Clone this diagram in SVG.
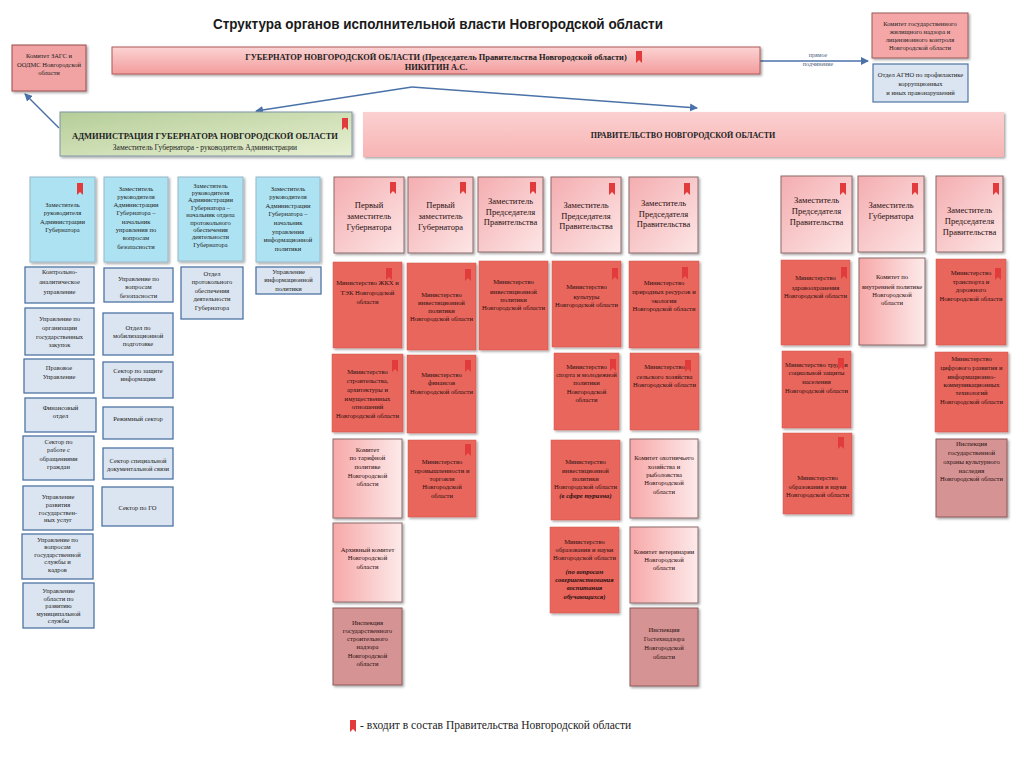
<svg xmlns="http://www.w3.org/2000/svg" xmlns:xlink="http://www.w3.org/1999/xlink" width="1024" height="767" viewBox="0 0 1024 767">
<defs>
<style>
.t{font-family:"Liberation Serif","DejaVu Serif",serif;fill:#222;text-anchor:middle}
.hb{fill:#ade2f2;stroke:#98b7c9;stroke-width:1}
.sb{fill:#dbe5f1;stroke:#4f73a3;stroke-width:1.3}
.hr{fill:url(#gHead);stroke:#8c6a6a;stroke-width:1}
.mn{fill:#e9665b;stroke:#d4574d;stroke-width:0.5}
.lp{fill:url(#gLight);stroke:#8c6a6a;stroke-width:1}
.ins{fill:#d59393;stroke:#8c5a5a;stroke-width:1}
.f65{font-size:6.5px}
.f66{font-size:6.6px;fill:#2a1010}
.f85{font-size:8.5px;fill:#2a1010}
.bi{font-weight:bold;font-style:italic}
.con{stroke:#4a72a8;stroke-width:1.5;fill:none}
</style>
<linearGradient id="gHead" x1="0" y1="0" x2="1" y2="1"><stop offset="0" stop-color="#f4adb0"/><stop offset="1" stop-color="#fde6e6"/></linearGradient>
<linearGradient id="gLight" x1="0" y1="0" x2="1" y2="0"><stop offset="0" stop-color="#f7a8a8"/><stop offset="1" stop-color="#fdeaea"/></linearGradient>
<linearGradient id="gGov" x1="0" y1="0" x2="0" y2="1"><stop offset="0" stop-color="#fbd3d3"/><stop offset="1" stop-color="#f39c9c"/></linearGradient>
<linearGradient id="gPrav" x1="0" y1="0" x2="0" y2="1"><stop offset="0" stop-color="#fbd0d0"/><stop offset="1" stop-color="#f8b4b4"/></linearGradient>
<linearGradient id="gAdm" x1="0" y1="0" x2="1" y2="1"><stop offset="0" stop-color="#b5cd98"/><stop offset="1" stop-color="#e8f0d2"/></linearGradient>
<filter id="sh" x="-10%" y="-10%" width="130%" height="130%"><feDropShadow dx="1.5" dy="1.5" stdDeviation="1" flood-color="#000" flood-opacity="0.35"/></filter>
<marker id="ar" markerWidth="8" markerHeight="8" refX="7" refY="4" orient="auto" markerUnits="userSpaceOnUse"><path d="M0,0 L8,4 L0,8 z" fill="#4a72a8"/></marker>
<path id="bm" d="M0,0 h6 v12 l-3,-3 l-3,3 z" fill="#e23b3b"/>
</defs>
<rect width="1024" height="767" fill="#ffffff"/>

<text x="438" y="29" font-family="Liberation Sans, Arial, sans-serif" font-weight="bold" font-size="14.5" text-anchor="middle" fill="#1a1a1a" textLength="450" lengthAdjust="spacingAndGlyphs">Структура органов исполнительной власти Новгородской области</text>

<g id="connectors">
<line class="con" x1="412" y1="87" x2="256" y2="111" marker-end="url(#ar)"/>
<line class="con" x1="412" y1="87" x2="697" y2="108" marker-end="url(#ar)"/>
<line class="con" x1="59" y1="128" x2="25" y2="94" marker-end="url(#ar)"/>
<line class="con" x1="760" y1="61" x2="868" y2="61" marker-end="url(#ar)"/>
<text class="t" x="818" y="57" font-size="6" style="fill:#4a6080">прямое</text>
<text class="t" x="818" y="65.5" font-size="6" style="fill:#4a6080">подчинение</text>
</g>

<g id="governor">
<rect x="112" y="47" width="648" height="27" fill="url(#gGov)" stroke="#b05858" stroke-width="1" filter="url(#sh)"/>
<text class="t" x="436" y="59.5" font-size="8.4" font-weight="bold">ГУБЕРНАТОР НОВГОРОДСКОЙ ОБЛАСТИ (Председатель Правительства Новгородской области)</text>
<text class="t" x="436" y="69.5" font-size="8.4" font-weight="bold">НИКИТИН А.С.</text>
<use href="#bm" x="636" y="51"/>
</g>

<g id="zags">
<rect x="12" y="45" width="74" height="46" fill="#f1a3a3" stroke="#9a4a4a" stroke-width="1" filter="url(#sh)"/>
<text class="t f65"><tspan x="49" y="58">Комитет ЗАГС и</tspan><tspan x="49" y="66.5">ООДМС Новгородской</tspan><tspan x="49" y="75">области</tspan></text>
</g>

<g id="housing-committee">
<rect x="872" y="13" width="96" height="45" fill="#f5a7a7" stroke="#9a5a5a" stroke-width="1" filter="url(#sh)"/>
<text class="t f65"><tspan x="920" y="26">Комитет государственного</tspan><tspan x="920" y="34">жилищного надзора и</tspan><tspan x="920" y="42">лицензионного контроля</tspan><tspan x="920" y="50">Новгородской области</tspan></text>
</g>

<g id="agno">
<rect x="873" y="64" width="95" height="38" fill="#dbe5f1" stroke="#4f73a3" stroke-width="1.2"/>
<text class="t f65"><tspan x="920.5" y="76.5">Отдел  АГНО по профилактике</tspan><tspan x="920.5" y="86">коррупционных</tspan><tspan x="920.5" y="95">и иных правонарушений</tspan></text>
</g>

<g id="administration">
<rect x="60" y="112" width="292" height="44" fill="url(#gAdm)" stroke="#7f95a8" stroke-width="1" filter="url(#sh)"/>
<text class="t" x="205" y="139" font-size="8.5" font-weight="bold">АДМИНИСТРАЦИЯ ГУБЕРНАТОРА НОВГОРОДСКОЙ ОБЛАСТИ</text>
<text class="t" x="205" y="149.5" font-size="7.5">Заместитель Губернатора - руководитель Администрации</text>
<use href="#bm" x="342" y="118"/>
</g>

<g id="government">
<rect x="363" y="112" width="641" height="45" fill="url(#gPrav)" filter="url(#sh)"/>
<text class="t" x="683" y="138" font-size="8" font-weight="bold">ПРАВИТЕЛЬСТВО НОВГОРОДСКОЙ ОБЛАСТИ</text>
</g>

<g id="bh1">
<rect class="hb" x="30" y="177" width="65" height="85" filter="url(#sh)"/>
<text class="t f65"><tspan x="62.5" y="206.5">Заместитель</tspan><tspan x="62.5" y="215">руководителя</tspan><tspan x="62.5" y="223.5">Администрации</tspan><tspan x="62.5" y="232">Губернатора</tspan></text>
<use href="#bm" x="77" y="183"/>
</g>
<g id="bh2">
<rect class="hb" x="104" y="177" width="64" height="85" filter="url(#sh)"/>
<text class="t f65"><tspan x="136" y="190.5">Заместитель</tspan><tspan x="136" y="198.8">руководителя</tspan><tspan x="136" y="207.1">Администрации</tspan><tspan x="136" y="215.4">Губернатора –</tspan><tspan x="136" y="223.7">начальник</tspan><tspan x="136" y="232">управления по</tspan><tspan x="136" y="240.3">вопросам</tspan><tspan x="136" y="248.6">безопасности</tspan></text>
</g>
<g id="bh3">
<rect class="hb" x="178" y="177" width="65" height="84" filter="url(#sh)"/>
<text class="t f65"><tspan x="210.5" y="187.5">Заместитель</tspan><tspan x="210.5" y="194.9">руководителя</tspan><tspan x="210.5" y="202.3">Администрации</tspan><tspan x="210.5" y="209.7">Губернатора –</tspan><tspan x="210.5" y="217.1">начальник отдела</tspan><tspan x="210.5" y="224.5">протокольного</tspan><tspan x="210.5" y="231.9">обеспечения</tspan><tspan x="210.5" y="239.3">деятельности</tspan><tspan x="210.5" y="246.7">Губернатора</tspan></text>
</g>
<g id="bh4">
<rect class="hb" x="256" y="177" width="64" height="85" filter="url(#sh)"/>
<text class="t f65"><tspan x="288" y="190.5">Заместитель</tspan><tspan x="288" y="199.1">руководителя</tspan><tspan x="288" y="207.7">Администрации</tspan><tspan x="288" y="216.3">Губернатора –</tspan><tspan x="288" y="224.9">начальник</tspan><tspan x="288" y="233.5">управления</tspan><tspan x="288" y="242.1">информационной</tspan><tspan x="288" y="250.7">политики</tspan></text>
</g>

<g id="s1"><rect class="sb" x="25" y="267" width="69" height="36"/><text class="t f65"><tspan x="59.5" y="274.3">Контрольно-</tspan><tspan x="59.5" y="284.3">аналитическое</tspan><tspan x="59.5" y="294.3">управление</tspan></text></g>
<g id="s2"><rect class="sb" x="25" y="308" width="69" height="47"/><text class="t f65"><tspan x="59.5" y="320.5">Управление по</tspan><tspan x="59.5" y="329.5">организации</tspan><tspan x="59.5" y="338.5">государственных</tspan><tspan x="59.5" y="346.5">закупок</tspan></text></g>
<g id="s3"><rect class="sb" x="24" y="359" width="70" height="34"/><text class="t f65"><tspan x="59" y="370">Правовое</tspan><tspan x="59" y="379">Управление</tspan></text></g>
<g id="s4"><rect class="sb" x="25" y="398" width="71" height="34"/><text class="t f65"><tspan x="60.5" y="409.5">Финансовый</tspan><tspan x="60.5" y="417.5">отдел</tspan></text></g>
<g id="s5"><rect class="sb" x="23" y="436" width="71" height="44"/><text class="t f65"><tspan x="58.5" y="443.5">Сектор по</tspan><tspan x="58.5" y="452">работе с</tspan><tspan x="58.5" y="460.5">обращениями</tspan><tspan x="58.5" y="469">граждан</tspan></text></g>
<g id="s6"><rect class="sb" x="23" y="486" width="70" height="44"/><text class="t f65"><tspan x="58" y="499">Управление</tspan><tspan x="58" y="507">развития</tspan><tspan x="58" y="514.5">государствен-</tspan><tspan x="58" y="522">ных услуг</tspan></text></g>
<g id="s7"><rect class="sb" x="22" y="534" width="71" height="45"/><text class="t f65"><tspan x="57.5" y="541.5">Управление по</tspan><tspan x="57.5" y="549">вопросам</tspan><tspan x="57.5" y="556.5">государственной</tspan><tspan x="57.5" y="564">службы  и</tspan><tspan x="57.5" y="571.5">кадров</tspan></text></g>
<g id="s8"><rect class="sb" x="23" y="583" width="71" height="45"/><text class="t f65"><tspan x="58.5" y="593">Управление</tspan><tspan x="58.5" y="600.5">области по</tspan><tspan x="58.5" y="608">развитию</tspan><tspan x="58.5" y="615.5">муниципальной</tspan><tspan x="58.5" y="623">службы</tspan></text></g>
<g id="s9"><rect class="sb" x="104" y="268" width="69" height="34"/><text class="t f65"><tspan x="138.5" y="280.5">Управление по</tspan><tspan x="138.5" y="289">вопросам</tspan><tspan x="138.5" y="297.5">безопасности</tspan></text></g>
<g id="s10"><rect class="sb" x="103" y="313" width="70" height="42"/><text class="t f65"><tspan x="138" y="329.5">Отдел по</tspan><tspan x="138" y="337.5">мобилизационной</tspan><tspan x="138" y="345.5">подготовке</tspan></text></g>
<g id="s11"><rect class="sb" x="103" y="362" width="70" height="36"/><text class="t f65"><tspan x="138" y="372.5">Сектор по  защите</tspan><tspan x="138" y="380.5">информации</tspan></text></g>
<g id="s12"><rect class="sb" x="103" y="407" width="70" height="32"/><text class="t f65"><tspan x="138" y="420.5">Режимный сектор</tspan></text></g>
<g id="s13"><rect class="sb" x="103" y="448" width="70" height="31"/><text class="t f65"><tspan x="138" y="462.5">Сектор специальной</tspan><tspan x="138" y="470.5">документальной связи</tspan></text></g>
<g id="s14"><rect class="sb" x="102" y="487" width="71" height="39"/><text class="t f65"><tspan x="137.5" y="509.5">Сектор по ГО</tspan></text></g>
<g id="s15"><rect class="sb" x="181" y="267" width="62" height="52"/><text class="t f65"><tspan x="212" y="275.5">Отдел</tspan><tspan x="212" y="284">протокольного</tspan><tspan x="212" y="292.5">обеспечения</tspan><tspan x="212" y="301">деятельности</tspan><tspan x="212" y="309.5">Губернатора</tspan></text></g>
<g id="s16"><rect class="sb" x="256" y="267" width="65" height="27"/><text class="t f65"><tspan x="288.5" y="274">Управление</tspan><tspan x="288.5" y="282">информационной</tspan><tspan x="288.5" y="290.5">политики</tspan></text></g>

<g id="hA"><rect class="hr" x="334" y="177" width="70" height="76" filter="url(#sh)"/><text class="t f85"><tspan x="369" y="208">Первый</tspan><tspan x="369" y="219">заместитель</tspan><tspan x="369" y="230">Губернатора</tspan></text><use href="#bm" x="390" y="182"/></g>
<g id="hB"><rect class="hr" x="408" y="177" width="65" height="76" filter="url(#sh)"/><text class="t f85"><tspan x="440.5" y="208">Первый</tspan><tspan x="440.5" y="219">заместитель</tspan><tspan x="440.5" y="230">Губернатора</tspan></text><use href="#bm" x="460" y="182"/></g>
<g id="hC"><rect class="hr" x="478" y="177" width="65" height="75" filter="url(#sh)"/><text class="t f85"><tspan x="510.5" y="204">Заместитель</tspan><tspan x="510.5" y="214.5">Председателя</tspan><tspan x="510.5" y="225">Правительства</tspan></text><use href="#bm" x="530" y="182"/></g>
<g id="hD"><rect class="hr" x="551" y="177" width="70" height="76" filter="url(#sh)"/><text class="t f85"><tspan x="586" y="208">Заместитель</tspan><tspan x="586" y="218.5">Председателя</tspan><tspan x="586" y="229">Правительства</tspan></text><use href="#bm" x="609" y="183"/></g>
<g id="hE"><rect class="hr" x="629" y="177" width="69" height="76" filter="url(#sh)"/><text class="t f85"><tspan x="663.5" y="206">Заместитель</tspan><tspan x="663.5" y="216.5">Председателя</tspan><tspan x="663.5" y="227">Правительства</tspan></text><use href="#bm" x="684" y="183"/></g>
<g id="hF"><rect class="hr" x="781" y="176" width="71" height="77" filter="url(#sh)"/><text class="t f85"><tspan x="816.5" y="203">Заместитель</tspan><tspan x="816.5" y="214">Председателя</tspan><tspan x="816.5" y="225">Правительства</tspan></text><use href="#bm" x="840" y="183"/></g>
<g id="hG"><rect class="hr" x="858" y="176" width="66" height="76" filter="url(#sh)"/><text class="t f85"><tspan x="891" y="208">Заместитель</tspan><tspan x="891" y="218.5">Губернатора</tspan></text><use href="#bm" x="912" y="183"/></g>
<g id="hH"><rect class="hr" x="936" y="176" width="67" height="76" filter="url(#sh)"/><text class="t f85"><tspan x="969.5" y="213">Заместитель</tspan><tspan x="969.5" y="224">Председателя</tspan><tspan x="969.5" y="235">Правительства</tspan></text><use href="#bm" x="993" y="183"/></g>

<g id="m1"><rect class="mn" x="333" y="262" width="69" height="86" filter="url(#sh)"/><text class="t f66"><tspan x="367.5" y="285">Министерство  ЖКХ и</tspan><tspan x="367.5" y="295">ТЭК Новгородской</tspan><tspan x="367.5" y="304">области</tspan></text><use href="#bm" x="386" y="268"/></g>
<g id="m2"><rect class="mn" x="407" y="263" width="69" height="87" filter="url(#sh)"/><text class="t f66"><tspan x="441.5" y="297">Министерство</tspan><tspan x="441.5" y="305">инвестиционной</tspan><tspan x="441.5" y="313">политики</tspan><tspan x="441.5" y="320.5">Новгородской области</tspan></text><use href="#bm" x="465" y="269"/></g>
<g id="m3"><rect class="mn" x="479" y="261" width="69" height="89" filter="url(#sh)"/><text class="t f66"><tspan x="513.5" y="284">Министерство</tspan><tspan x="513.5" y="294">инвестиционной</tspan><tspan x="513.5" y="302">политики</tspan><tspan x="513.5" y="310">Новгородской области</tspan></text></g>
<g id="m4"><rect class="mn" x="552" y="261" width="69" height="86" filter="url(#sh)"/><text class="t f66"><tspan x="586.5" y="289">Министерство</tspan><tspan x="586.5" y="299">культуры</tspan><tspan x="586.5" y="307">Новгородской области</tspan></text><use href="#bm" x="612" y="268"/></g>
<g id="m5"><rect class="mn" x="629" y="261" width="70" height="87" filter="url(#sh)"/><text class="t f66"><tspan x="664" y="285">Министерство</tspan><tspan x="664" y="294">природных ресурсов и</tspan><tspan x="664" y="303">экологии</tspan><tspan x="664" y="311">Новгородской области</tspan></text><use href="#bm" x="682" y="267"/></g>
<g id="m6"><rect class="mn" x="781" y="260" width="69" height="85" filter="url(#sh)"/><text class="t f66"><tspan x="815.5" y="280">Министерство</tspan><tspan x="815.5" y="290">здравоохранения</tspan><tspan x="815.5" y="298">Новгородской области</tspan></text><use href="#bm" x="841" y="267"/></g>
<g id="m7"><rect class="lp" x="859" y="258" width="66" height="87" filter="url(#sh)"/><text class="t f66"><tspan x="892" y="279">Комитет по</tspan><tspan x="892" y="289">внутренней политике</tspan><tspan x="892" y="297">Новгородской</tspan><tspan x="892" y="305">области</tspan></text></g>
<g id="m8"><rect class="mn" x="936" y="259" width="70" height="86" filter="url(#sh)"/><text class="t f66"><tspan x="971" y="275">Министерство</tspan><tspan x="971" y="284">транспорта и</tspan><tspan x="971" y="292">дорожного</tspan><tspan x="971" y="301">Новгородской области</tspan></text><use href="#bm" x="995" y="268"/></g>

<g id="m9"><rect class="mn" x="332" y="354" width="71" height="78" filter="url(#sh)"/><text class="t f66"><tspan x="367.5" y="374">Министерство</tspan><tspan x="367.5" y="383">строительства,</tspan><tspan x="367.5" y="392">архитектуры и</tspan><tspan x="367.5" y="401">имущественных</tspan><tspan x="367.5" y="409">отношений</tspan><tspan x="367.5" y="418">Новгородской области</tspan></text><use href="#bm" x="392" y="360"/></g>
<g id="m10"><rect class="mn" x="407" y="355" width="69" height="78" filter="url(#sh)"/><text class="t f66"><tspan x="441.5" y="377">Министерство</tspan><tspan x="441.5" y="385">финансов</tspan><tspan x="441.5" y="394">Новгородской области</tspan></text><use href="#bm" x="465" y="360"/></g>
<g id="m11"><rect class="mn" x="554" y="353" width="65" height="77" filter="url(#sh)"/><text class="t f66"><tspan x="586.5" y="369">Министерство</tspan><tspan x="586.5" y="377">спорта и молодежной</tspan><tspan x="586.5" y="385">политики</tspan><tspan x="586.5" y="394">Новгородской</tspan><tspan x="586.5" y="402">области</tspan></text><use href="#bm" x="610" y="359"/></g>
<g id="m12"><rect class="mn" x="630" y="353" width="69" height="77" filter="url(#sh)"/><text class="t f66"><tspan x="664.5" y="369">Министерство</tspan><tspan x="664.5" y="379">сельского хозяйства</tspan><tspan x="664.5" y="387">Новгородской области</tspan></text><use href="#bm" x="685" y="360"/></g>
<g id="m13"><rect class="mn" x="782" y="351" width="69" height="77" filter="url(#sh)"/><text class="t f66"><tspan x="816.5" y="367">Министерство труда и</tspan><tspan x="816.5" y="375">социальной защиты</tspan><tspan x="816.5" y="384">населения</tspan><tspan x="816.5" y="393">Новгородской области</tspan></text><use href="#bm" x="838" y="358"/></g>
<g id="m14"><rect class="mn" x="935" y="352" width="73" height="80" filter="url(#sh)"/><text class="t f66"><tspan x="971.5" y="361">Министерство</tspan><tspan x="971.5" y="370">цифрового развития и</tspan><tspan x="971.5" y="379">информационно-</tspan><tspan x="971.5" y="387">коммуникационных</tspan><tspan x="971.5" y="395">технологий</tspan><tspan x="971.5" y="404">Новгородской области</tspan></text></g>

<g id="m15"><rect class="lp" x="333" y="439" width="69" height="79" filter="url(#sh)"/><text class="t f66"><tspan x="367.5" y="452">Комитет</tspan><tspan x="367.5" y="460">по тарифной</tspan><tspan x="367.5" y="469">политике</tspan><tspan x="367.5" y="478">Новгородской</tspan><tspan x="367.5" y="486">области</tspan></text></g>
<g id="m16"><rect class="mn" x="408" y="440" width="68" height="77" filter="url(#sh)"/><text class="t f66"><tspan x="442" y="464">Министерство</tspan><tspan x="442" y="473">промышленности и</tspan><tspan x="442" y="481">торговли</tspan><tspan x="442" y="489">Новгородской</tspan><tspan x="442" y="498">области</tspan></text><use href="#bm" x="465" y="444"/></g>
<g id="m17"><rect class="mn" x="551" y="440" width="69" height="80" filter="url(#sh)"/><text class="t f66"><tspan x="585.5" y="464">Министерство</tspan><tspan x="585.5" y="473">инвестиционной</tspan><tspan x="585.5" y="481">политики</tspan><tspan x="585.5" y="489">Новгородской области</tspan><tspan x="585.5" y="498" class="bi">(в сфере туризма)</tspan></text></g>
<g id="m18"><rect class="lp" x="630" y="439" width="68" height="79" filter="url(#sh)"/><text class="t f66"><tspan x="664" y="460">Комитет охотничьего</tspan><tspan x="664" y="469">хозяйства и</tspan><tspan x="664" y="477">рыболовства</tspan><tspan x="664" y="485">Новгородской</tspan><tspan x="664" y="494">области</tspan></text></g>
<g id="m19"><rect class="mn" x="783" y="433" width="69" height="81" filter="url(#sh)"/><text class="t f66"><tspan x="817.5" y="480">Министерство</tspan><tspan x="817.5" y="489">образования и науки</tspan><tspan x="817.5" y="497">Новгородской области</tspan></text><use href="#bm" x="838" y="437"/></g>
<g id="m20"><rect class="ins" x="936" y="439" width="71" height="78" filter="url(#sh)"/><text class="t f66"><tspan x="971.5" y="446">Инспекция</tspan><tspan x="971.5" y="455">государственной</tspan><tspan x="971.5" y="464">охраны культурного</tspan><tspan x="971.5" y="473">наследия</tspan><tspan x="971.5" y="481">Новгородской области</tspan></text></g>

<g id="m21"><rect class="lp" x="333" y="523" width="69" height="79" filter="url(#sh)"/><text class="t f66"><tspan x="367.5" y="552">Архивный комитет</tspan><tspan x="367.5" y="560">Новгородской</tspan><tspan x="367.5" y="569">области</tspan></text></g>
<g id="m22"><rect class="mn" x="550" y="527" width="69" height="86" filter="url(#sh)"/><text class="t f66"><tspan x="584.5" y="544">Министерство</tspan><tspan x="584.5" y="552">образования и науки</tspan><tspan x="584.5" y="560">Новгородской области</tspan><tspan x="584.5" y="574" class="bi">(по вопросам</tspan><tspan x="584.5" y="582" class="bi">совершенствования</tspan><tspan x="584.5" y="590" class="bi">воспитания</tspan><tspan x="584.5" y="599" class="bi">обучающихся)</tspan></text></g>
<g id="m23"><rect class="lp" x="630" y="527" width="68" height="76" filter="url(#sh)"/><text class="t f66"><tspan x="664" y="554">Комитет ветеринарии</tspan><tspan x="664" y="562">Новгородской</tspan><tspan x="664" y="570">области</tspan></text></g>

<g id="m24"><rect class="ins" x="333" y="608" width="69" height="77" filter="url(#sh)"/><text class="t f66"><tspan x="367.5" y="625">Инспекция</tspan><tspan x="367.5" y="633">государственного</tspan><tspan x="367.5" y="641">строительного</tspan><tspan x="367.5" y="649">надзора</tspan><tspan x="367.5" y="658">Новгородской</tspan><tspan x="367.5" y="666">области</tspan></text></g>
<g id="m25"><rect class="ins" x="630" y="608" width="68" height="78" filter="url(#sh)"/><text class="t f66"><tspan x="664" y="632">Инспекция</tspan><tspan x="664" y="641">Гостехнадзора</tspan><tspan x="664" y="650">Новгородской</tspan><tspan x="664" y="659">области</tspan></text></g>

<g id="legend">
<use href="#bm" x="350" y="720"/>
<text x="360" y="729" font-family="Liberation Serif, serif" font-size="11.5" fill="#222">- входит в состав Правительства Новгородской области</text>
</g>
</svg>
